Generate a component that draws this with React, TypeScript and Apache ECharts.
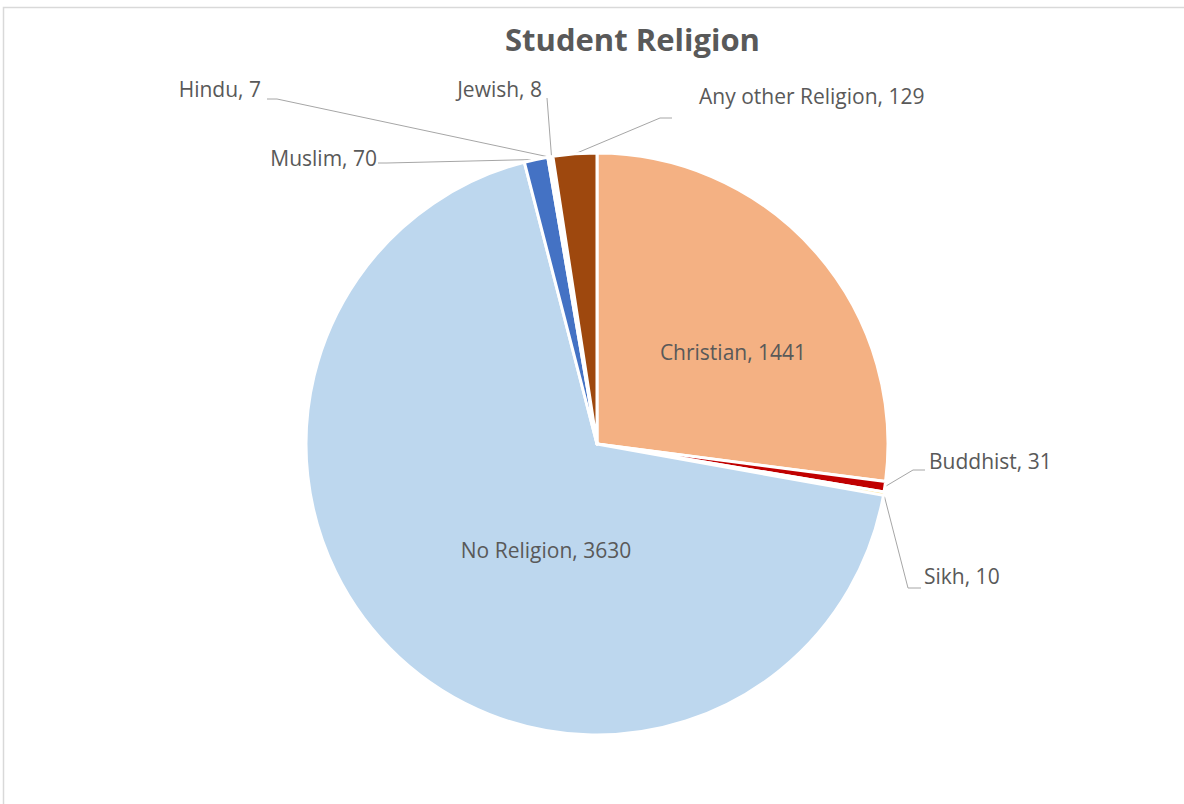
import React, { useEffect, useRef } from "react";
import * as echarts from "echarts";

const categories = ["Christian", "Buddhist", "Sikh", "No Religion", "Muslim", "Hindu", "Jewish", "Any other Religion"];
const values = [1441, 31, 10, 3630, 70, 7, 8, 129];
const colors = ["#F4B183", "#C00000", "#FFD966", "#BDD7EE", "#4472C4", "#A5A5A5", "#FFC000", "#9E480E"];

// label layout: [x, y, align, inside, elbow points]
const labelLayouts: any[] = [
  { x: 733, y: 352, align: "center", inside: true },
  { x: 929, y: 461, align: "left", pts: [[913, 470], [925, 470]] },
  { x: 924, y: 576, align: "left", pts: [[908, 588], [921, 588]] },
  { x: 546, y: 550, align: "center", inside: true },
  { x: 377, y: 158, align: "right", pts: [[387, 163], [378, 163]] },
  { x: 261, y: 89, align: "right", pts: [[277, 99], [267, 99]] },
  { x: 542, y: 89, align: "right", pts: [[547, 98]] },
  { x: 699, y: 96, align: "left", pts: [[660, 118], [672, 118]] },
];

const FONT = "'Open Sans', sans-serif";

export default function App() {
  const ref = useRef<HTMLDivElement>(null);
  useEffect(() => {
    if (!ref.current) return;
    const chart = echarts.init(ref.current, undefined, { renderer: "svg" });
    chart.setOption({
      animation: false,
      backgroundColor: "#ffffff",
      title: {
        text: "Student Religion",
        left: 500,
        top: 18,
        textStyle: { fontFamily: FONT, fontSize: 31, fontWeight: "bold", color: "#595959" },
      },
      graphic: [
        {
          type: "rect",
          shape: { x: 3.5, y: 7.5, width: 1300, height: 900 },
          style: { fill: "none", stroke: "#D9D9D9", lineWidth: 1.5 },
          silent: true,
          z: -1,
        },
      ],
      series: [
        {
          type: "pie",
          center: [597, 444],
          radius: 291,
          startAngle: 90,
          clockwise: true,
          avoidLabelOverlap: false,
          itemStyle: { borderColor: "#ffffff", borderWidth: 3 },
          label: {
            show: true,
            formatter: "{b}, {c}",
            fontFamily: FONT,
            fontSize: 21,
            color: "#595959",
          },
          labelLine: { show: true, length: 20, length2: 10, lineStyle: { color: "#A6A6A6", width: 1 } },
          labelLayout: (params: any) => {
            const l = labelLayouts[params.dataIndex];
            const out: any = { x: l.x, y: l.y, align: l.align, verticalAlign: "middle" };
            if (!l.inside && params.labelLinePoints) {
              const start = params.labelLinePoints[0];
              out.labelLinePoints = [start, ...l.pts];
            }
            return out;
          },
          data: categories.map((name, i) => ({
            name,
            value: values[i],
            itemStyle: { color: colors[i] },
            label: labelLayouts[i].inside ? { position: "inside" } : { position: "outside" },
            labelLine: { show: !labelLayouts[i].inside },
          })),
        },
      ],
    });
    return () => chart.dispose();
  }, []);
  return <div ref={ref} style={{ position: "absolute", left: 0, top: 0, width: 1184, height: 804 }} />;
}
